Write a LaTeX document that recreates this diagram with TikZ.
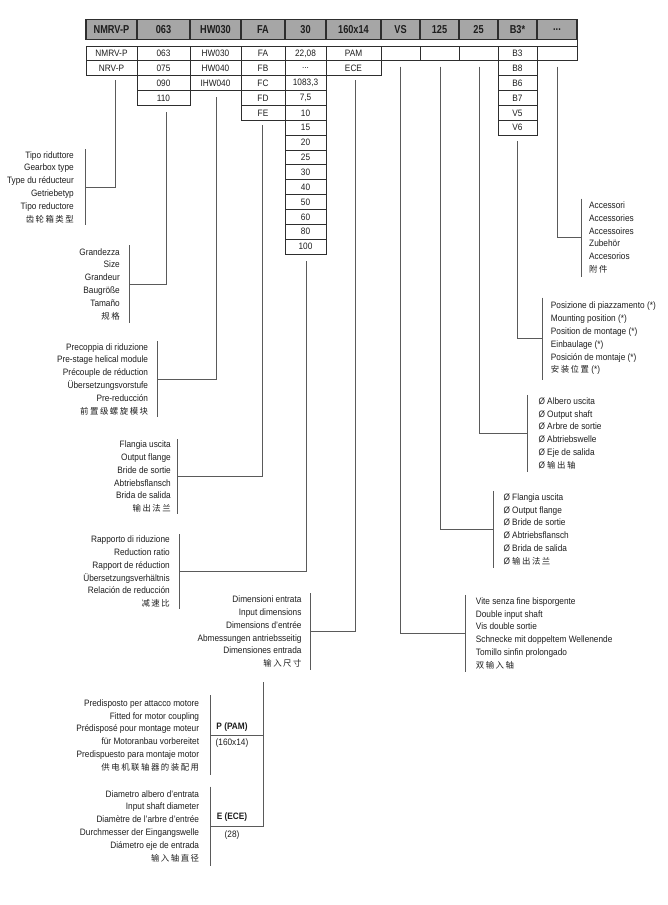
\documentclass[tikz,border=0pt]{standalone}
\usepackage{fontspec}
\setmainfont{Liberation Sans}[FakeStretch=0.89]
\newfontfamily\hdrfam{Liberation Sans}[FakeStretch=0.8]
\newfontfamily\cjk{Noto Sans CJK SC}[LetterSpace=18]
\newcommand\fs{\fontsize{9.3}{12.8}\selectfont}
\newcommand\zh[1]{{\cjk\fontsize{8.4}{12.8}\selectfont #1}}
\newcommand\mkcell[5]{\node[cell, minimum width={(#3-#2)*1pt}] (#1) at ({(#2+#3)/2}, {46+(#4-0.5)*14.86}) {#5};}
\newcommand\mkhead[4]{\node[hcell, minimum width={(#3-#2)*1pt}] (#1) at ({(#2+#3)/2}, 29.4) {#4};}
\definecolor{txt}{HTML}{1E1E1E}
\definecolor{cellc}{HTML}{2E2E2E}
\definecolor{hfill}{HTML}{A6A6A6}
\definecolor{linec}{HTML}{5A5A5A}
\begin{document}
\begin{tikzpicture}[x=1pt,y=-1pt,
  cell/.style={draw=cellc, line width=0.8pt, minimum height=14.86pt, inner sep=0pt, outer sep=0pt, font=\fs, text=txt},
  hcell/.style={draw=cellc, fill=hfill, line width=1.2pt, minimum height=19.8pt, inner sep=0pt, outer sep=0pt, font=\hdrfam\fontsize{11.5}{12}\selectfont\bfseries, text=txt},
  conn/.style={draw=linec, line width=0.75pt},
  brk/.style={draw=linec, line width=0.75pt},
  lblL/.style={align=right, anchor=east, inner sep=0pt, font=\fs, text=txt},
  lblR/.style={align=left, anchor=west, inner sep=0pt, font=\fs, text=txt},
  tag/.style={inner sep=0pt, font=\fs, text=txt},
  tagb/.style={inner sep=0pt, font=\fs\bfseries, text=txt}]
\useasboundingbox[fill=white] (0,0) rectangle (668,905);

% header
\mkhead{h1}{86}{137}{NMRV-P}
\mkhead{h2}{137}{190}{063}
\mkhead{h3}{190}{241}{HW030}
\mkhead{h4}{241}{285}{FA}
\mkhead{h5}{285}{326}{30}
\mkhead{h6}{326}{381}{160x14}
\mkhead{h7}{381}{420}{VS}
\mkhead{h8}{420}{459}{125}
\mkhead{h9}{459}{498}{25}
\mkhead{h10}{498}{537}{B3*}
\mkhead{h11}{537}{577}{...}

% table
\mkcell{r1c1}{86}{137}{1}{NMRV-P}
\mkcell{r1c2}{137}{190}{1}{063}
\mkcell{r1c3}{190}{241}{1}{HW030}
\mkcell{r1c4}{241}{285}{1}{FA}
\mkcell{r1c5}{285}{326}{1}{22,08}
\mkcell{r1c6}{326}{381}{1}{PAM}
\mkcell{r1c7}{381}{420}{1}{}
\mkcell{r1c8}{420}{459}{1}{}
\mkcell{r1c9}{459}{498}{1}{}
\mkcell{r1c10}{498}{537}{1}{B3}
\mkcell{r1c11}{537}{577}{1}{}
\draw[draw=cellc, line width=0.8pt] (h11.south east) -- (r1c11.north east);

\mkcell{r2c1}{86}{137}{2}{NRV-P}
\mkcell{r2c2}{137}{190}{2}{075}
\mkcell{r2c3}{190}{241}{2}{HW040}
\mkcell{r2c4}{241}{285}{2}{FB}
\mkcell{r2c5}{285}{326}{2}{...}
\mkcell{r2c6}{326}{381}{2}{ECE}
\mkcell{r2c10}{498}{537}{2}{B8}

\mkcell{r3c2}{137}{190}{3}{090}
\mkcell{r3c3}{190}{241}{3}{IHW040}
\mkcell{r3c4}{241}{285}{3}{FC}
\mkcell{r3c5}{285}{326}{3}{1083,3}
\mkcell{r3c10}{498}{537}{3}{B6}

\mkcell{r4c2}{137}{190}{4}{110}
\mkcell{r4c4}{241}{285}{4}{FD}
\mkcell{r4c5}{285}{326}{4}{7,5}
\mkcell{r4c10}{498}{537}{4}{B7}

\mkcell{r5c4}{241}{285}{5}{FE}
\mkcell{r5c5}{285}{326}{5}{10}
\mkcell{r5c10}{498}{537}{5}{V5}

\mkcell{r6c5}{285}{326}{6}{15}
\mkcell{r6c10}{498}{537}{6}{V6}

\mkcell{r7c5}{285}{326}{7}{20}
\mkcell{r8c5}{285}{326}{8}{25}
\mkcell{r9c5}{285}{326}{9}{30}
\mkcell{r10c5}{285}{326}{10}{40}
\mkcell{r11c5}{285}{326}{11}{50}
\mkcell{r12c5}{285}{326}{12}{60}
\mkcell{r13c5}{285}{326}{13}{80}
\mkcell{r14c5}{285}{326}{14}{100}

% ---------- left groups
\node[lblL] (g1) at (74,187) {Tipo riduttore\\Gearbox type\\Type du réducteur\\Getriebetyp\\Tipo reductore\\\zh{齿轮箱类型}};
\coordinate (s1) at (115.7,80); \coordinate (k1) at (85,187);
\draw[conn] (s1) |- (k1);
\draw[brk] (k1) ++(0,-38) -- ++(0,76);

\node[lblL] (g2) at (120,284) {Grandezza\\Size\\Grandeur\\Baugröße\\Tamaño\\\zh{规格}};
\coordinate (s2) at (166,112) ; \coordinate (k2) at (129.3,284);
\draw[conn] (s2) |- (k2);
\draw[brk] (k2) ++(0,-39) -- ++(0,78);

\node[lblL] (g3) at (148.3,379) {Precoppia di riduzione\\Pre-stage helical module\\Précouple de réduction\\Übersetzungsvorstufe\\Pre-reducción\\\zh{前置级螺旋模块}};
\coordinate (s3) at (216.7,97); \coordinate (k3) at (157.7,379);
\draw[conn] (s3) |- (k3);
\draw[brk] (k3) ++(0,-38) -- ++(0,76);

\node[lblL] (g4) at (171,476.7) {Flangia uscita\\Output flange\\Bride de sortie\\Abtriebsflansch\\Brida de salida\\\zh{输出法兰}};
\coordinate (s4) at (262.7,125); \coordinate (k4) at (177.3,476.7);
\draw[conn] (s4) |- (k4);
\draw[brk] (k4) ++(0,-37.5) -- ++(0,75);

\node[lblL] (g5) at (170,571.7) {Rapporto di riduzione\\Reduction ratio\\Rapport de réduction\\Übersetzungsverhältnis\\Relación de reducción\\\zh{减速比}};
\coordinate (s5) at (306.7,261); \coordinate (k5) at (179.3,571.7);
\draw[conn] (s5) |- (k5);
\draw[brk] (k5) ++(0,-37.5) -- ++(0,75);

\node[lblL] (g6) at (301.7,631.7) {Dimensioni entrata\\Input dimensions\\Dimensions d'entrée\\Abmessungen antriebsseitig\\Dimensiones entrada\\\zh{输入尺寸}};
\coordinate (s6) at (355,80); \coordinate (k6) at (310.7,631.7);
\draw[conn] (s6) |- (k6);
\draw[brk] (k6) ++(0,-38.5) -- ++(0,77);

% ---------- right groups
\node[lblR] (g7) at (475.7,633.3) {Vite senza fine bisporgente\\Double input shaft\\Vis double sortie\\Schnecke mit doppeltem Wellenende\\Tomillo sinfin prolongado\\\zh{双输入轴}};
\coordinate (s7) at (400.7,66.7); \coordinate (k7) at (465,633.3);
\draw[conn] (s7) |- (k7);
\draw[brk] (k7) ++(0,-38.5) -- ++(0,77);

\node[lblR] (g8) at (503.3,529.3) {Ø Flangia uscita\\Ø Output flange\\Ø Bride de sortie\\Ø Abtriebsflansch\\Ø Brida de salida\\Ø \zh{输出法兰}};
\coordinate (s8) at (440.3,66.7); \coordinate (k8) at (493.3,529.3);
\draw[conn] (s8) |- (k8);
\draw[brk] (k8) ++(0,-38.5) -- ++(0,77);

\node[lblR] (g9) at (538.3,433.3) {Ø Albero uscita\\Ø Output shaft\\Ø Arbre de sortie\\Ø Abtriebswelle\\Ø Eje de salida\\Ø \zh{输出轴}};
\coordinate (s9) at (479.3,66.7); \coordinate (k9) at (527.7,433.3);
\draw[conn] (s9) |- (k9);
\draw[brk] (k9) ++(0,-38.5) -- ++(0,77);

\node[lblR] (g10) at (550.7,338.5) {Posizione di piazzamento (*)\\Mounting position (*)\\Position de montage (*)\\Einbaulage (*)\\Posición de montaje (*)\\\zh{安装位置} (*)};
\coordinate (s10) at (517.3,141); \coordinate (k10) at (542.7,338.5);
\draw[conn] (s10) |- (k10);
\draw[brk] (k10) ++(0,-41) -- ++(0,82);

\node[lblR] (g11) at (589,237.5) {Accessori\\Accessories\\Accessoires\\Zubehör\\Accesorios\\\zh{附件}};
\coordinate (s11) at (557.3,66.7); \coordinate (k11) at (581.7,237.5);
\draw[conn] (s11) |- (k11);
\draw[brk] (k11) ++(0,-39) -- ++(0,78);

% ---------- bottom group
\node[lblL] (b1) at (199.3,735.3) {Predisposto per attacco motore\\Fitted for motor coupling\\Prédisposé pour montage moteur\\für Motoranbau vorbereitet\\Predispuesto para montaje motor\\\zh{供电机联轴器的装配用}};
\node[lblL] (b2) at (199.3,826) {Diametro albero d'entrata\\Input shaft diameter\\Diamètre de l'arbre d'entrée\\Durchmesser der Eingangswelle\\Diámetro eje de entrada\\\zh{输入轴直径}};
\coordinate (vt) at (263.3,682);
\coordinate (kb1) at (210.7,735.3);
\coordinate (kb2) at (210.7,826);
\draw[conn] (kb1) -- (kb1 -| vt);
\draw[conn] (vt) |- (kb2);
\draw[brk] (kb1) ++(0,-40) -- ++(0,80);
\draw[brk] (kb2) ++(0,-39.5) -- ++(0,79);
\node[tagb] (pam) at (232,726.7) {P (PAM)};
\node[tag] (pamv) at (232,743.3) {(160x14)};
\node[tagb] (ece) at (232,817.3) {E (ECE)};
\node[tag] (ecev) at (232,835) {(28)};
\end{tikzpicture}
\end{document}
